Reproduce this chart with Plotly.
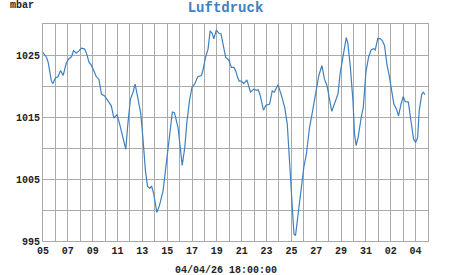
import pandas as pd
import plotly.graph_objects as go

start = "2026-03-05 00:00"
end_label = "04/04/26 18:00:00"
title_text = "Luftdruck"
unit_text = "mbar"

hours_since_start = [
    0, 7, 10, 16, 19, 24, 29, 34, 39, 45, 50, 55, 59, 64, 70, 74, 80, 84, 89, 93,
    98, 103, 108, 113, 119, 125, 132, 137, 143, 148, 154, 160, 164, 169, 174, 178,
    183, 189, 193, 198, 202, 206, 210, 214, 220, 225, 232, 238, 245, 250, 254, 261,
    269, 274, 278, 283, 288, 293, 299, 306, 309, 314, 319, 323, 327, 330, 335, 340,
    344, 348, 353, 359, 364, 369, 373, 376, 379, 383, 388, 394, 401, 407, 412, 416,
    420, 426, 431, 438, 443, 447, 454, 460, 467, 472, 476, 481, 485, 488, 494, 499,
    504, 509, 515, 520, 527, 533, 539, 544, 549, 558, 563, 570, 574, 579, 586, 589,
    594, 599, 602, 605, 609, 615, 619, 624, 629, 634, 639, 642, 647, 652, 656, 660,
    665, 669, 673, 678, 683, 687, 692, 696, 700, 706, 711, 716, 720, 724, 727, 732,
    735, 738,
]
pressure_mbar = [
    1025.4, 1024.6, 1023.8, 1020.9, 1020.4, 1021.3, 1021.5, 1022.5, 1021.7, 1023.7,
    1024.4, 1024.7, 1025.7, 1025.3, 1025.7, 1026.1, 1026.0, 1025.3, 1023.8, 1023.4,
    1022.5, 1021.5, 1021.1, 1018.7, 1018.4, 1017.6, 1016.8, 1014.8, 1015.4, 1013.9,
    1011.7, 1009.8, 1013.9, 1017.9, 1019.0, 1020.3, 1018.2, 1015.5, 1011.7, 1006.3,
    1003.8, 1003.5, 1003.8, 1002.6, 999.6, 1000.7, 1003.1, 1007.4, 1011.8, 1015.8,
    1015.7, 1013.3, 1007.2, 1010.1, 1014.1, 1017.6, 1019.8, 1020.3, 1021.5, 1021.7,
    1022.5, 1024.6, 1026.0, 1028.9, 1028.5, 1027.6, 1029.0, 1028.5, 1028.4, 1026.8,
    1024.6, 1024.2, 1023.0, 1023.0, 1022.3, 1021.4, 1020.8, 1020.8, 1020.4, 1021.0,
    1019.0, 1019.5, 1019.3, 1019.4, 1018.4, 1016.1, 1016.9, 1017.1, 1019.2, 1019.0,
    1020.2, 1018.7, 1016.6, 1013.9, 1008.5, 1001.5, 996.1, 995.9, 999.9, 1004.2,
    1006.9, 1009.0, 1013.3, 1015.5, 1019.2, 1021.7, 1023.3, 1021.1, 1020.0, 1015.9,
    1017.1, 1018.7, 1021.9, 1024.6, 1027.8, 1027.0, 1023.0, 1017.6, 1012.3, 1010.4,
    1011.7, 1015.0, 1016.6, 1022.2, 1024.6, 1025.8, 1026.0, 1025.8, 1027.7, 1027.6,
    1027.3, 1026.5, 1023.3, 1021.7, 1019.8, 1017.1, 1016.3, 1015.2, 1017.1, 1018.3,
    1017.5, 1017.4, 1014.4, 1011.5, 1010.9, 1011.7, 1016.0, 1018.7, 1019.0, 1018.6,
]

y_tick_vals = [995, 1000, 1005, 1010, 1015, 1020, 1025, 1030]
y_tick_text = ["995", "", "1005", "", "1015", "", "1025", ""]
x_range = ["2026-03-05 00:00", "2026-04-05 00:00"]

times = pd.Timestamp(start) + pd.to_timedelta(hours_since_start, unit="h")

grid = "#aaaaaa"
mono = "Liberation Mono"

fig = go.Figure()
fig.add_trace(go.Scatter(
    x=times, y=pressure_mbar, mode="lines",
    line=dict(color="#3f80c0", width=1.2),
    hoverinfo="skip", showlegend=False,
))

fig.update_layout(
    width=451, height=275,
    margin=dict(l=43, r=23, t=24, b=34),
    paper_bgcolor="white", plot_bgcolor="white",
    title=dict(text=title_text, x=0.5, xref="container", y=1 - 7 / 275,
               yref="container", xanchor="center", yanchor="middle",
               font=dict(family=mono, size=14, color="#3f80c0", weight="bold")),
    annotations=[
        dict(text=unit_text, xref="paper", yref="paper",
             x=(21.5 - 43) / 385, y=1 + (24 - 5) / 217, xanchor="center",
             yanchor="middle", showarrow=False,
             font=dict(family=mono, size=10, color="#222", weight="bold")),
        dict(text=end_label, xref="paper", yref="paper",
             x=(225.5 - 43) / 385, y=-(270 - 241) / 217, xanchor="center",
             yanchor="middle", showarrow=False,
             font=dict(family=mono, size=10, color="#222", weight="bold")),
    ],
)

fig.update_xaxes(
    type="date", range=x_range, tick0="2026-03-05", dtick=2 * 86400000,
    tickformat="%d", showgrid=True, gridcolor=grid, gridwidth=1,
    minor=dict(dtick=86400000, showgrid=True, gridcolor=grid, gridwidth=1),
    showline=True, linecolor=grid, linewidth=1, mirror=True, ticks="",
    zeroline=False,
    tickfont=dict(family=mono, size=10, color="#222", weight="bold"),
)
fig.update_yaxes(
    range=[995, 1030], tickmode="array", tickvals=y_tick_vals, ticktext=y_tick_text,
    showgrid=True, gridcolor=grid, gridwidth=1,
    showline=True, linecolor=grid, linewidth=1, mirror=True, ticks="",
    zeroline=False,
    tickfont=dict(family=mono, size=10, color="#222", weight="bold"),
)

fig.write_html("out.html")
